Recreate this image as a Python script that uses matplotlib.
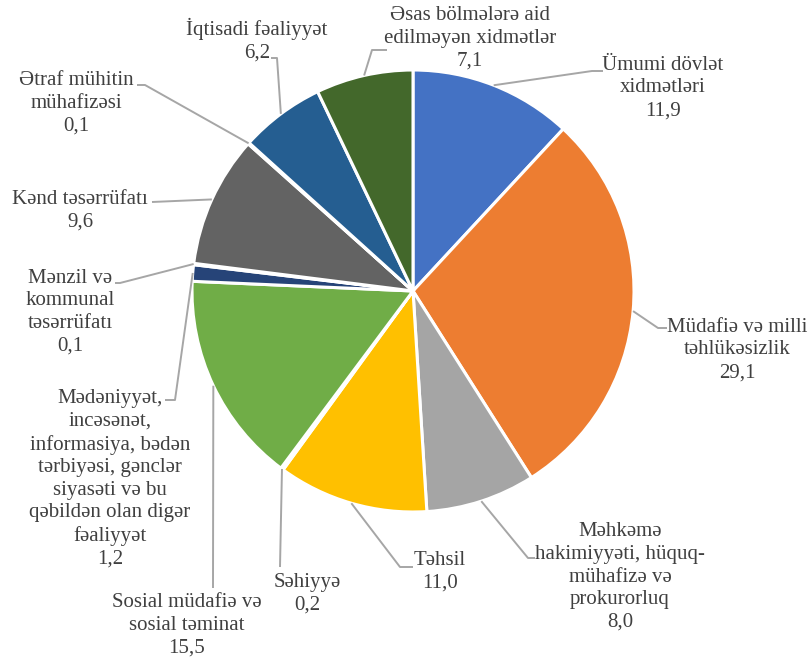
import numpy as np
import matplotlib
matplotlib.use("Agg")
import matplotlib.pyplot as plt

# ---- data ----
categories = [
    "Ümumi dövlət\nxidmətləri",
    "Müdafiə və milli\ntəhlükəsizlik",
    "Məhkəmə\nhakimiyyəti, hüquq-\nmühafizə və\nprokurorluq",
    "Təhsil",
    "Səhiyyə",
    "Sosial müdafiə və\nsosial təminat",
    "Mədəniyyət,\nincəsənət,\ninformasiya, bədən\ntərbiyəsi, gənclər\nsiyasəti və bu\nqəbildən olan digər\nfəaliyyət",
    "Mənzil və\nkommunal\ntəsərrüfatı",
    "Kənd təsərrüfatı",
    "Ətraf mühitin\nmühafizəsi",
    "İqtisadi fəaliyyət",
    "Əsas bölmələrə aid\nedilməyən xidmətlər",
]
values = [11.9, 29.1, 8.0, 11.0, 0.2, 15.5, 1.2, 0.1, 9.6, 0.1, 6.2, 7.1]
value_labels = ["11,9", "29,1", "8,0", "11,0", "0,2", "15,5", "1,2", "0,1", "9,6", "0,1", "6,2", "7,1"]
colors = ["#4472C4", "#ED7D31", "#A5A5A5", "#FFC000", "#5B9BD5", "#70AD47",
          "#264478", "#9E480E", "#636363", "#997300", "#255E91", "#43682B"]

# ---- layout (pixel coordinates, y from top) ----
W, H = 809, 661
center_px = (413, 291)
radius_px = 221
text_pos = [(663, 88), (737, 350), (620, 577), (440, 572), (307, 594), (187, 625),
            (110, 479), (70, 312), (80, 211), (76, 103), (257, 40), (470, 38)]
elbows = [[(592, 71), (603, 71)],
          [(658, 328), (667, 328)],
          [(528, 558), (535, 558)],
          [(400, 567), (413, 567)],
          [(280, 567)],
          [(213, 588)],
          [(175, 400), (165, 400)],
          [(120, 283), (115, 283)],
          [(152, 202)],
          [(145, 85), (137, 85)],
          [(277, 58), (271, 58)],
          [(372, 50), (387, 50)]]

def fy(y):
    return H - y

fig = plt.figure(figsize=(W / 100, H / 100), dpi=100)
ax = fig.add_axes([0, 0, 1, 1])

wedges, _ = ax.pie(values, colors=colors, startangle=90, counterclock=False,
                   center=(center_px[0], fy(center_px[1])), radius=radius_px,
                   wedgeprops=dict(edgecolor="white", linewidth=2.2))
ax.set_xlim(0, W)
ax.set_ylim(0, H)
ax.set_aspect("equal")
ax.axis("off")

text_color = "#404040"
line_color = "#A6A6A6"
font = "Liberation Serif"

for i, w in enumerate(wedges):
    ang = np.deg2rad((w.theta1 + w.theta2) / 2)
    ax_x = w.center[0] + w.r * np.cos(ang)
    ax_y = w.center[1] + w.r * np.sin(ang)
    xs = [ax_x] + [p[0] for p in elbows[i]]
    ys = [ax_y] + [fy(p[1]) for p in elbows[i]]
    ax.plot(xs, ys, color=line_color, lw=1.4, solid_capstyle="butt", zorder=1)
    tx, ty = text_pos[i]
    ax.text(tx, fy(ty), categories[i] + "\n" + value_labels[i], ha="center", va="center",
            multialignment="center", fontsize=15, family=font, color=text_color,
            linespacing=1.26)

fig.savefig("out.png", dpi=100)
